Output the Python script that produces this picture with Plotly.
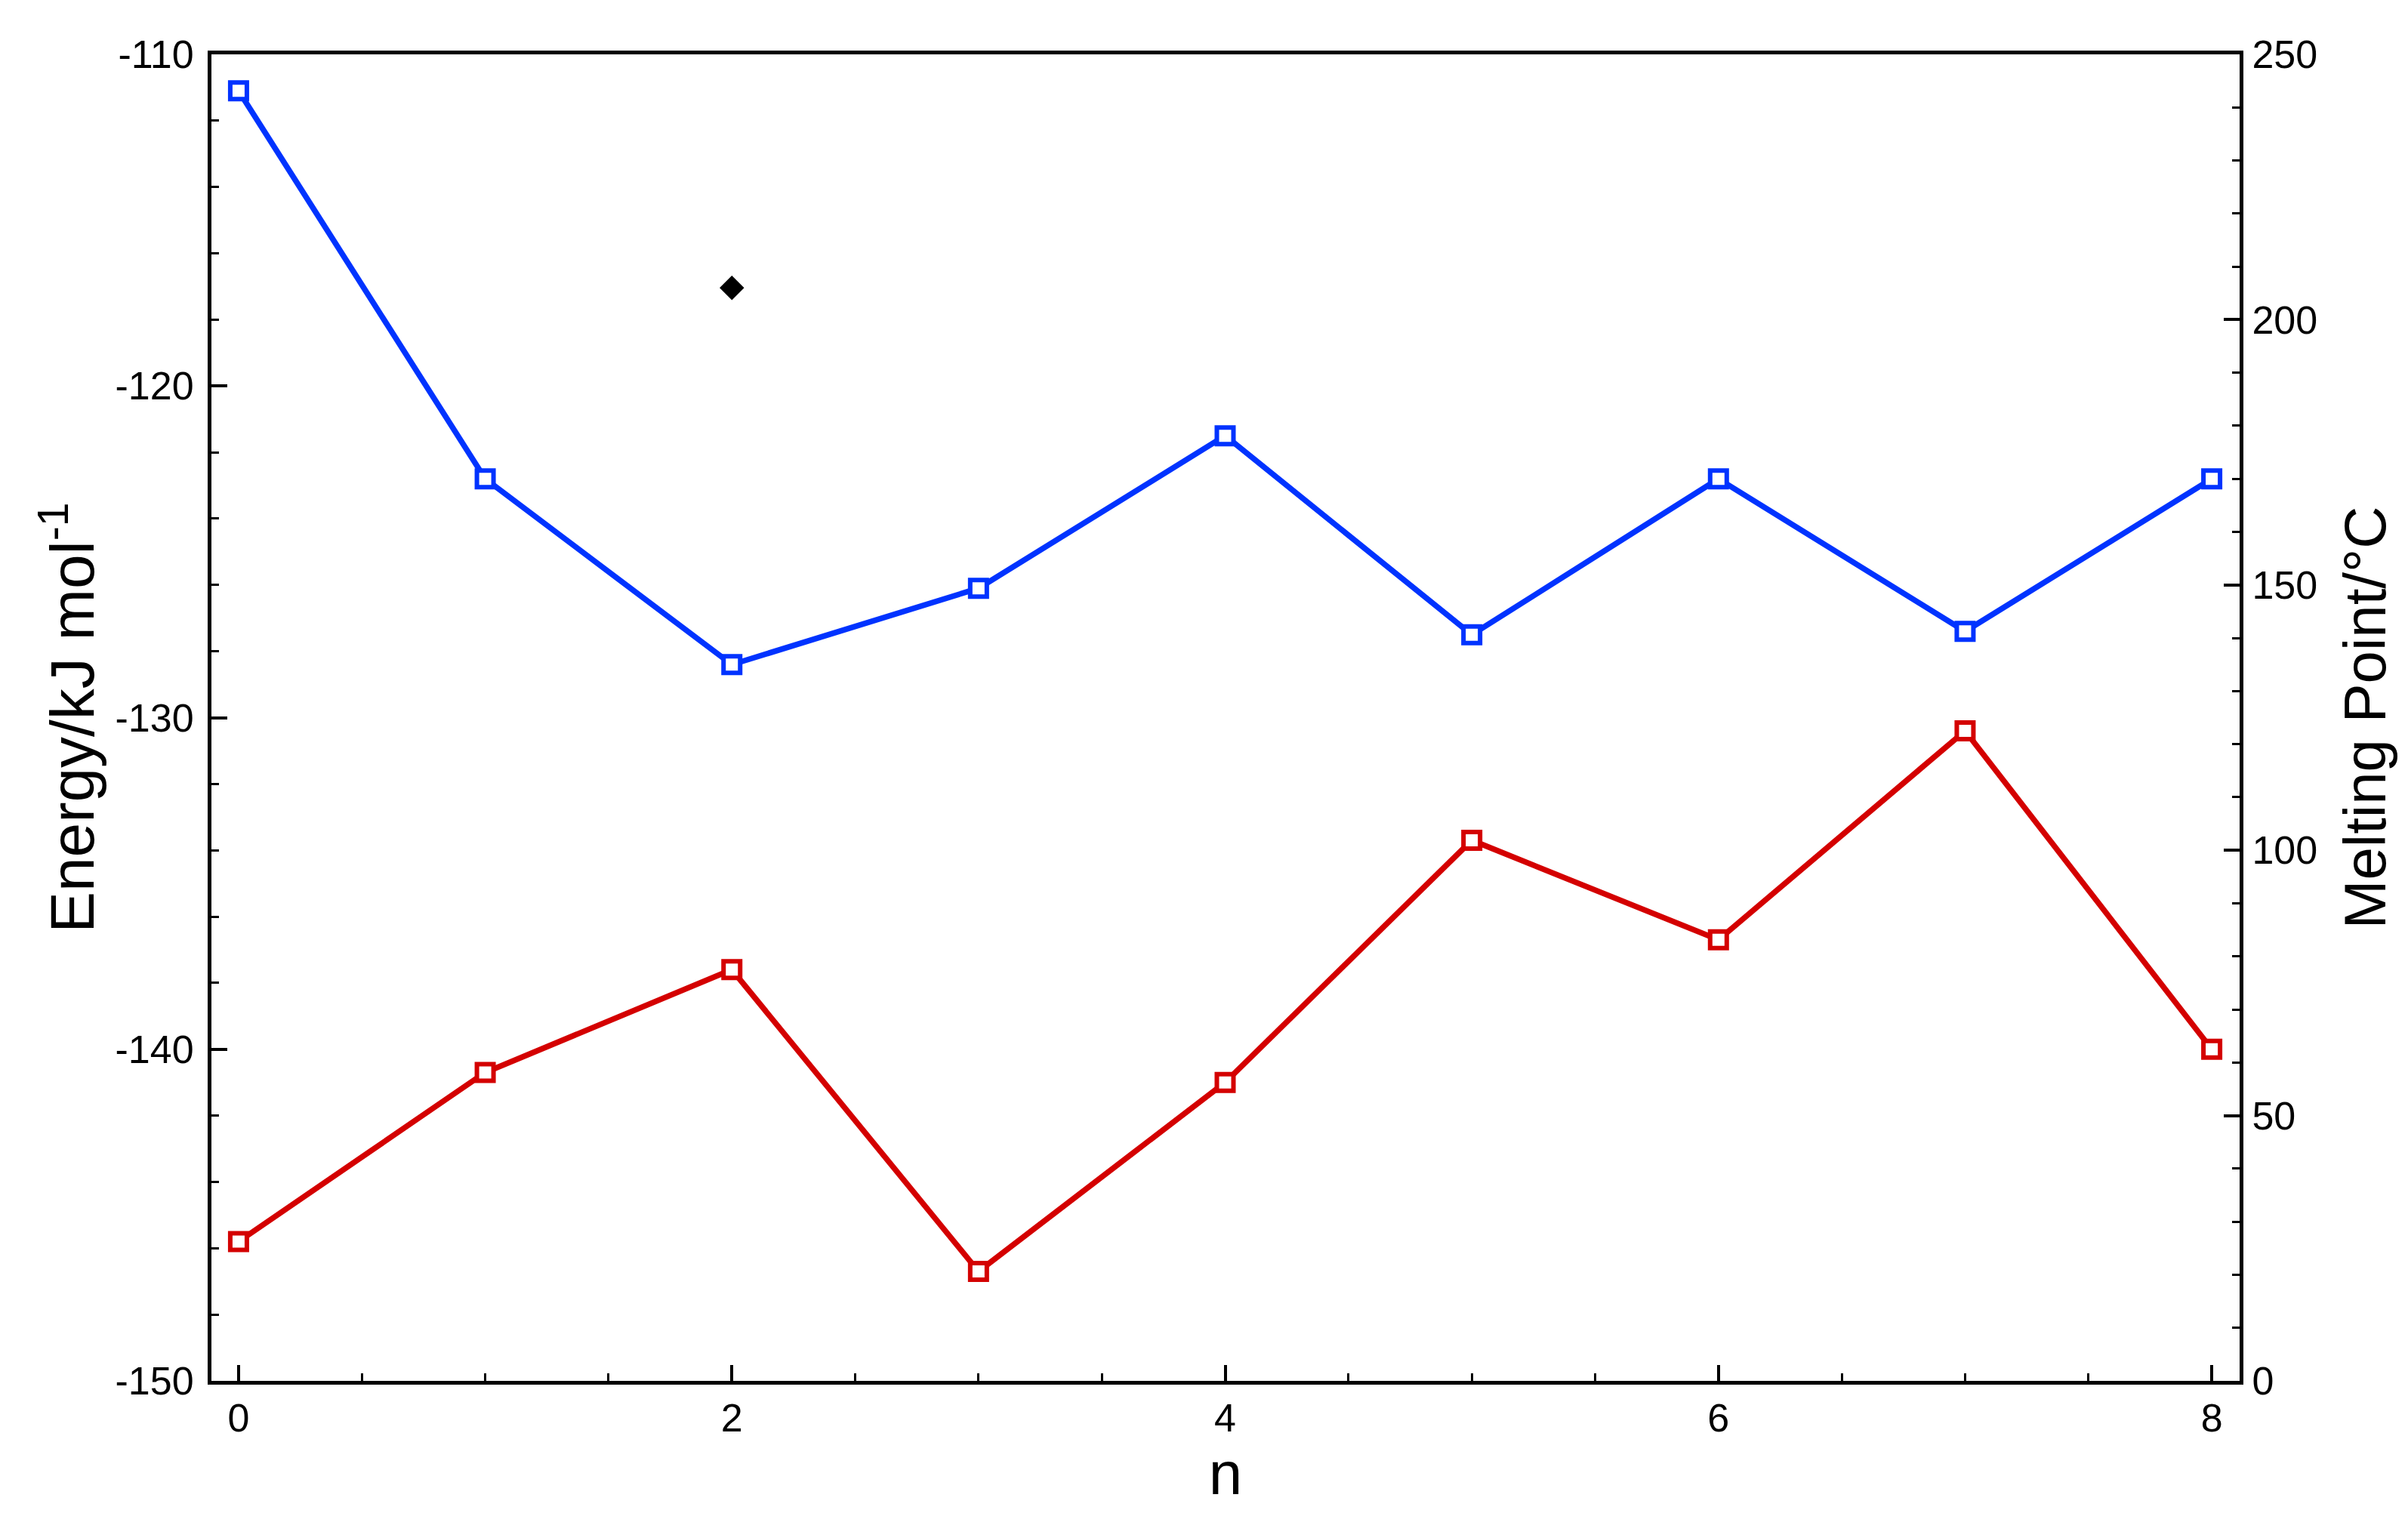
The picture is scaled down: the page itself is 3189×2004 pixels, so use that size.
import plotly.graph_objects as go

n_values = [0, 1, 2, 3, 4, 5, 6, 7, 8]
energy_blue = [-111.1, -122.8, -128.4, -126.1, -121.5, -127.5, -122.8, -127.4, -122.8]
energy_red = [-145.8, -140.7, -137.6, -146.7, -141.0, -133.7, -136.7, -130.4, -140.0]
mp_n = [2]
melting_point = [206]

x_ticks = [0, 2, 4, 6, 8]
x_ticklabels = ["0", "2", "4", "6", "8"]
y_ticks = [-150, -140, -130, -120, -110]
y_ticklabels = ["-150", "-140", "-130", "-120", "-110"]
y2_ticks = [0, 50, 100, 150, 200, 250]
y2_ticklabels = ["0", "50", "100", "150", "200", "250"]

FONT = "Liberation Sans"
BLUE = "#0033FF"
RED = "#D40000"

fig = go.Figure()
fig.add_trace(go.Scatter(
    x=n_values, y=energy_blue, mode="lines+markers",
    line=dict(color=BLUE, width=7.5),
    marker=dict(symbol="square", size=22, color="white", line=dict(color=BLUE, width=6)),
    showlegend=False))
fig.add_trace(go.Scatter(
    x=n_values, y=energy_red, mode="lines+markers",
    line=dict(color=RED, width=7.5),
    marker=dict(symbol="square", size=22, color="white", line=dict(color=RED, width=6)),
    showlegend=False))
fig.add_trace(go.Scatter(
    x=mp_n, y=melting_point, mode="markers", yaxis="y2",
    marker=dict(symbol="diamond", size=25, color="black"),
    showlegend=False))

axis_common = dict(
    showline=True, linecolor="black", linewidth=5,
    ticks="inside", tickcolor="black", tickwidth=4, ticklen=21,
    showgrid=False, zeroline=False, automargin=False,
    tickfont=dict(family=FONT, size=52, color="black"),
)
minor_common = dict(ticks="inside", ticklen=10, tickwidth=3, tickcolor="black")

fig.update_layout(
    width=3189, height=2004,
    paper_bgcolor="white", plot_bgcolor="white",
    margin=dict(l=272, r=231, t=64, b=183),
    font=dict(family=FONT, color="black"),
    xaxis=dict(
        **axis_common,
        range=[-0.11, 8.113], tickmode="array", tickvals=x_ticks, ticktext=x_ticklabels,
        mirror=True,
        minor=dict(**minor_common, tickmode="linear", dtick=0.5, tick0=0),
        title=dict(text="n", font=dict(family=FONT, size=80), standoff=12),
    ),
    yaxis=dict(
        **axis_common,
        range=[-150, -110], tickmode="array", tickvals=y_ticks, ticktext=y_ticklabels,
        ticklabelstandoff=8,
        minor=dict(**minor_common, tickmode="linear", dtick=2, tick0=-150),
        title=dict(text="Energy/kJ mol<sup>-1</sup>", font=dict(family=FONT, size=82), standoff=2),
    ),
    yaxis2=dict(
        **axis_common,
        overlaying="y", side="right",
        range=[0, 250], tickmode="array", tickvals=y2_ticks, ticktext=y2_ticklabels,
        ticklabelstandoff=1,
        minor=dict(**minor_common, tickmode="linear", dtick=10, tick0=0),
        title=dict(text="Melting Point/°C", font=dict(family=FONT, size=78), standoff=38),
    ),
)

fig.write_html("out.html")
